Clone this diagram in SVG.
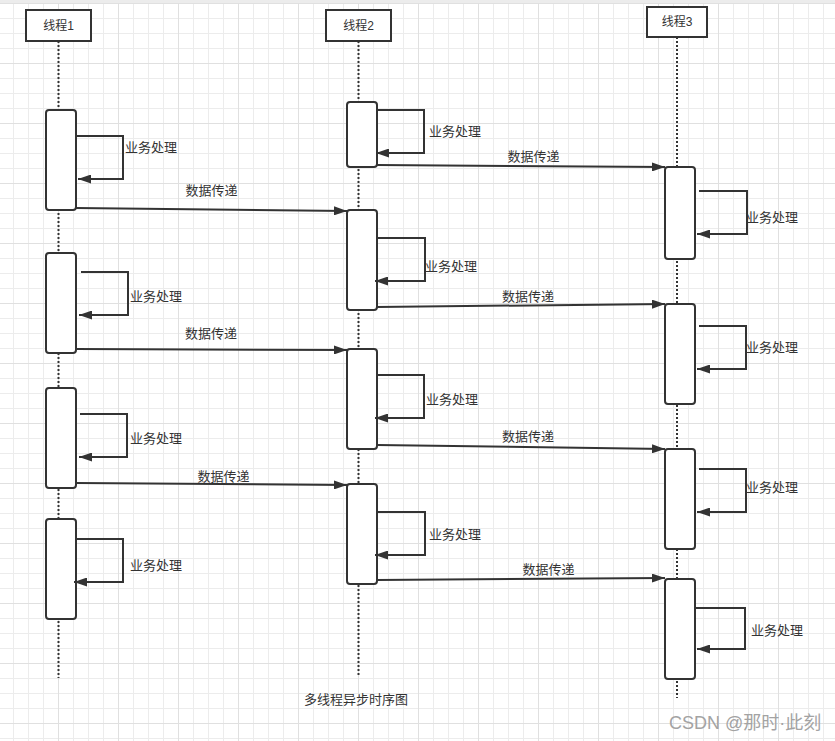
<svg xmlns="http://www.w3.org/2000/svg" width="835" height="741" viewBox="0 0 835 741">
<defs>
<pattern id="grid" x="-2" y="3" width="60" height="60" patternUnits="userSpaceOnUse">
<path d="M15.5,0V60M30.5,0V60M45.5,0V60M0,15.5H60M0,30.5H60M0,45.5H60" stroke="#ececec" stroke-width="1" fill="none"/>
<path d="M0.5,0V60M0,0.5H60" stroke="#e0e0e0" stroke-width="1" fill="none"/>
</pattern>
<marker id="arr" markerUnits="userSpaceOnUse" markerWidth="13" markerHeight="9" refX="13" refY="4.5" orient="auto">
<path d="M0,0 L13,4.5 L0,9 z" fill="#333"/>
</marker>
<style>
.hdr{fill:#fff;stroke:#333;stroke-width:2}
.life{stroke:#333;stroke-width:2;stroke-dasharray:2 2;fill:none}
.act{fill:#fff;stroke:#333;stroke-width:2}
.msg{stroke:#333;stroke-width:2;fill:none;marker-end:url(#arr)}
.t{font-family:"Liberation Sans","Noto Sans CJK SC",sans-serif;font-size:13px;fill:#333;dominant-baseline:central}
.h{font-family:"Liberation Sans","Noto Sans CJK SC",sans-serif;font-size:12px;fill:#333;dominant-baseline:central;text-anchor:middle}
.c{text-anchor:middle}
</style>
</defs>
<rect width="835" height="741" fill="#fff"/>
<rect width="835" height="741" fill="url(#grid)"/>
<rect width="835" height="3" fill="#ececec"/>

<g id="lifeline1">
<line class="life" x1="58.5" y1="41" x2="58.5" y2="678"/>
<rect class="hdr" x="26" y="10" width="65" height="31"/>
<text class="h" x="58.5" y="26">线程1</text>
</g>
<g id="lifeline2">
<line class="life" x1="358.5" y1="41" x2="358.5" y2="677"/>
<rect class="hdr" x="326" y="10" width="65" height="31"/>
<text class="h" x="358.5" y="26">线程2</text>
</g>
<g id="lifeline3">
<line class="life" x1="677" y1="37" x2="677" y2="698"/>
<rect class="hdr" x="647" y="7" width="60" height="30"/>
<text class="h" x="677" y="22">线程3</text>
</g>

<g id="act-1-1"><rect class="act" x="46" y="110" width="30" height="100" rx="3"/></g>
<g id="act-1-2"><rect class="act" x="46" y="253" width="30" height="100" rx="3"/></g>
<g id="act-1-3"><rect class="act" x="46" y="388" width="30" height="100" rx="3"/></g>
<g id="act-1-4"><rect class="act" x="46" y="519" width="30" height="100" rx="3"/></g>
<g id="act-2-1"><rect class="act" x="347" y="102" width="30" height="65" rx="3"/></g>
<g id="act-2-2"><rect class="act" x="347" y="210" width="30" height="100" rx="3"/></g>
<g id="act-2-3"><rect class="act" x="347" y="349" width="30" height="100" rx="3"/></g>
<g id="act-2-4"><rect class="act" x="347" y="484" width="30" height="100" rx="3"/></g>
<g id="act-3-1"><rect class="act" x="665" y="167" width="30" height="92" rx="3"/></g>
<g id="act-3-2"><rect class="act" x="665" y="304" width="30" height="100" rx="3"/></g>
<g id="act-3-3"><rect class="act" x="665" y="449" width="30" height="100" rx="3"/></g>
<g id="act-3-4"><rect class="act" x="665" y="579" width="30" height="100" rx="3"/></g>

<g id="connectors">
<polyline class="msg" points="76,136 123,136 123,179 78,179"/>
<polyline class="msg" points="81,272 128,272 128,315 79,315"/>
<polyline class="msg" points="80,414 127,414 127,457 79,457"/>
<polyline class="msg" points="76,539 123,539 123,582 74,582"/>
<polyline class="msg" points="377,110 424,110 424,153 376,153"/>
<polyline class="msg" points="377,238 425,238 425,281 375,281"/>
<polyline class="msg" points="377,375 424,375 424,418 375,418"/>
<polyline class="msg" points="377,512 425,512 425,555 375,555"/>
<polyline class="msg" points="699,191 747,191 747,234 697,234"/>
<polyline class="msg" points="699,326 746,326 746,369 697,369"/>
<polyline class="msg" points="699,469 746,469 746,512 697,512"/>
<polyline class="msg" points="695,608 745,608 745,649 697,649"/>

<line class="msg" x1="76" y1="208" x2="347" y2="211"/>
<line class="msg" x1="76" y1="349" x2="347" y2="350"/>
<line class="msg" x1="76" y1="483" x2="347" y2="485"/>
<line class="msg" x1="377" y1="165" x2="665" y2="167"/>
<line class="msg" x1="377" y1="307" x2="665" y2="304"/>
<line class="msg" x1="377" y1="445" x2="665" y2="449"/>
<line class="msg" x1="377" y1="580" x2="665" y2="578"/>

<text class="t" x="125" y="147">业务处理</text>
<text class="t" x="130" y="296">业务处理</text>
<text class="t" x="130" y="438">业务处理</text>
<text class="t" x="130" y="565">业务处理</text>
<text class="t" x="429" y="131">业务处理</text>
<text class="t" x="425" y="266">业务处理</text>
<text class="t" x="426" y="399">业务处理</text>
<text class="t" x="429" y="534">业务处理</text>
<text class="t" x="746" y="217">业务处理</text>
<text class="t" x="746" y="347">业务处理</text>
<text class="t" x="746" y="487">业务处理</text>
<text class="t" x="751" y="630">业务处理</text>

<text class="t c" x="211.5" y="190">数据传递</text>
<text class="t c" x="211" y="333">数据传递</text>
<text class="t c" x="223.5" y="476">数据传递</text>
<text class="t c" x="533.5" y="156">数据传递</text>
<text class="t c" x="528" y="296">数据传递</text>
<text class="t c" x="528" y="436">数据传递</text>
<text class="t c" x="548.5" y="569">数据传递</text>
</g>

<text class="t c" x="356" y="699">多线程异步时序图</text>
<text x="669" y="723" font-family="Liberation Sans,Noto Sans CJK SC,sans-serif" font-size="18" fill="#a3a3a3" dominant-baseline="central">CSDN @那时·此刻</text>
</svg>
